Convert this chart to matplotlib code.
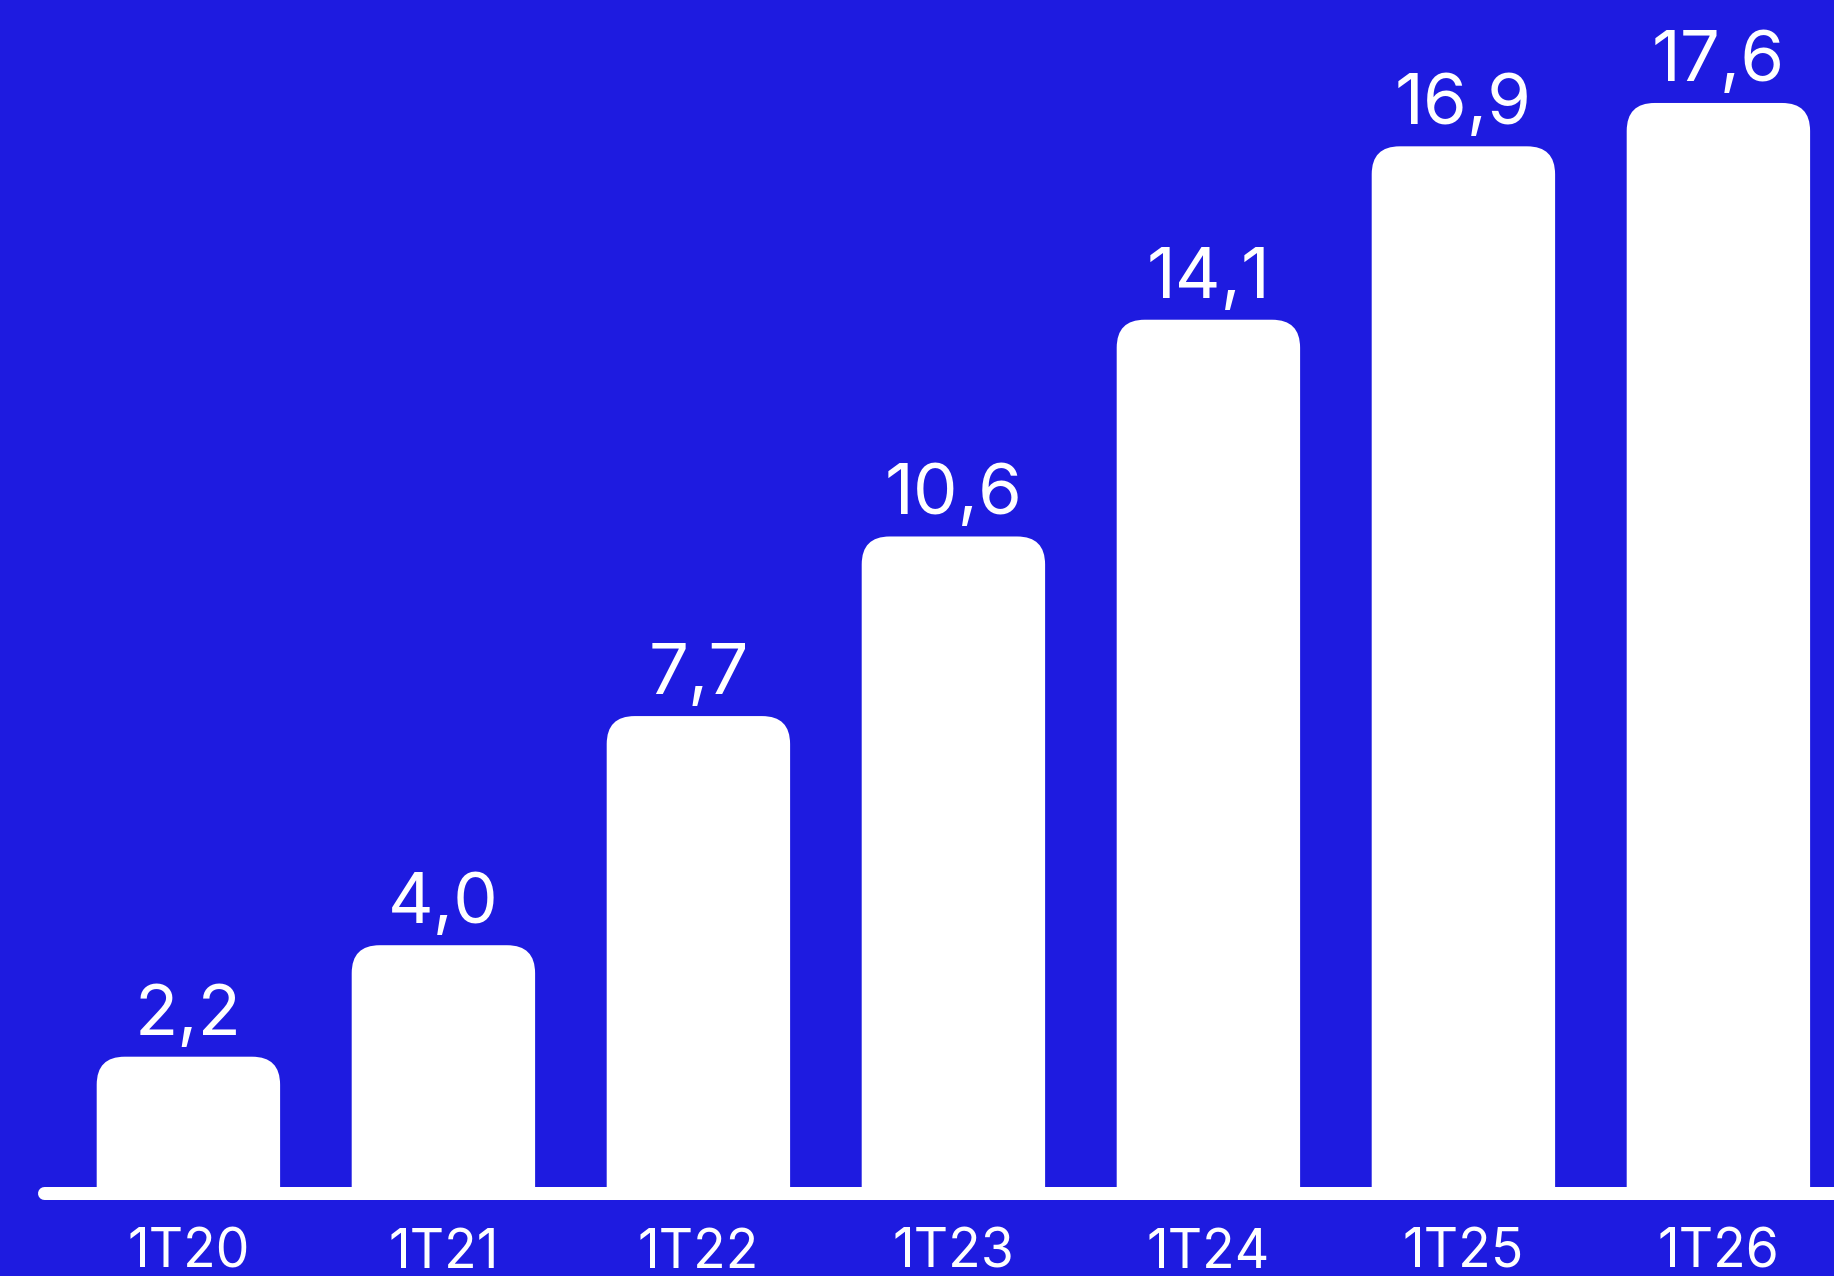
import matplotlib
matplotlib.use("Agg")
import matplotlib.pyplot as plt
from matplotlib.patches import FancyBboxPatch, Rectangle

categories = ["1T20", "1T21", "1T22", "1T23", "1T24", "1T25", "1T26"]
values = [2.2, 4.0, 7.7, 10.6, 14.1, 16.9, 17.6]
value_labels = ["2,2", "4,0", "7,7", "10,6", "14,1", "16,9", "17,6"]

BG = "#1E1BE0"
W, H, DPI = 1834, 1276, 100

fig = plt.figure(figsize=(W / DPI, H / DPI), dpi=DPI, facecolor=BG)
ax = fig.add_axes([0, 0, 1, 1])
ax.set_facecolor(BG)

# pixel geometry -> data limits
px_per_cat = 255.0
x0_px = 188.4
base_px = 1186.0
px_per_unit = 61.93
v_at_base = 0.112
ax.set_xlim(-x0_px / px_per_cat, (W - x0_px) / px_per_cat)
ax.set_ylim(v_at_base - (H - base_px) / px_per_unit, v_at_base + base_px / px_per_unit)
ax.axis("off")

FONT = ["Inter", "DejaVu Sans"]

xs = list(range(len(categories)))
bars = ax.bar(xs, values, width=183.4 / px_per_cat, color="white", zorder=2)

r_px = 28.0
rx = r_px / px_per_cat
ry = r_px / px_per_unit
for b in bars:
    b.set_visible(False)
    x, w, h = b.get_x(), b.get_width(), b.get_height()
    # rounded box extending below the base, clipped so only the top corners are round
    fb = FancyBboxPatch((x, -3 * ry), w, h + 3 * ry,
                        boxstyle=f"round,pad=0,rounding_size={rx}",
                        mutation_aspect=ry / rx,
                        facecolor="white", edgecolor="none", zorder=2)
    ax.add_patch(fb)
    clip = Rectangle((x - 1, 0), w + 2, h + 1, transform=ax.transData)
    fb.set_clip_path(clip)

# baseline
line_y = v_at_base - 6.6 / px_per_unit
ax.plot([(43.5 - x0_px) / px_per_cat, (W + 20 - x0_px) / px_per_cat], [line_y, line_y],
        color="white", lw=13 * 72 / DPI, solid_capstyle="round", zorder=3)

for x, v, lab in zip(xs, values, value_labels):
    ax.text(x, v + 22 / px_per_unit, lab, ha="center", va="baseline",
            color="white", fontsize=51, family=FONT)

for x, c in zip(xs, categories):
    ax.text(x, v_at_base - (1268 - base_px) / px_per_unit, c, ha="center", va="baseline",
            color="white", fontsize=38.5, family=FONT)

fig.savefig("out.png", dpi=DPI, facecolor=BG)
